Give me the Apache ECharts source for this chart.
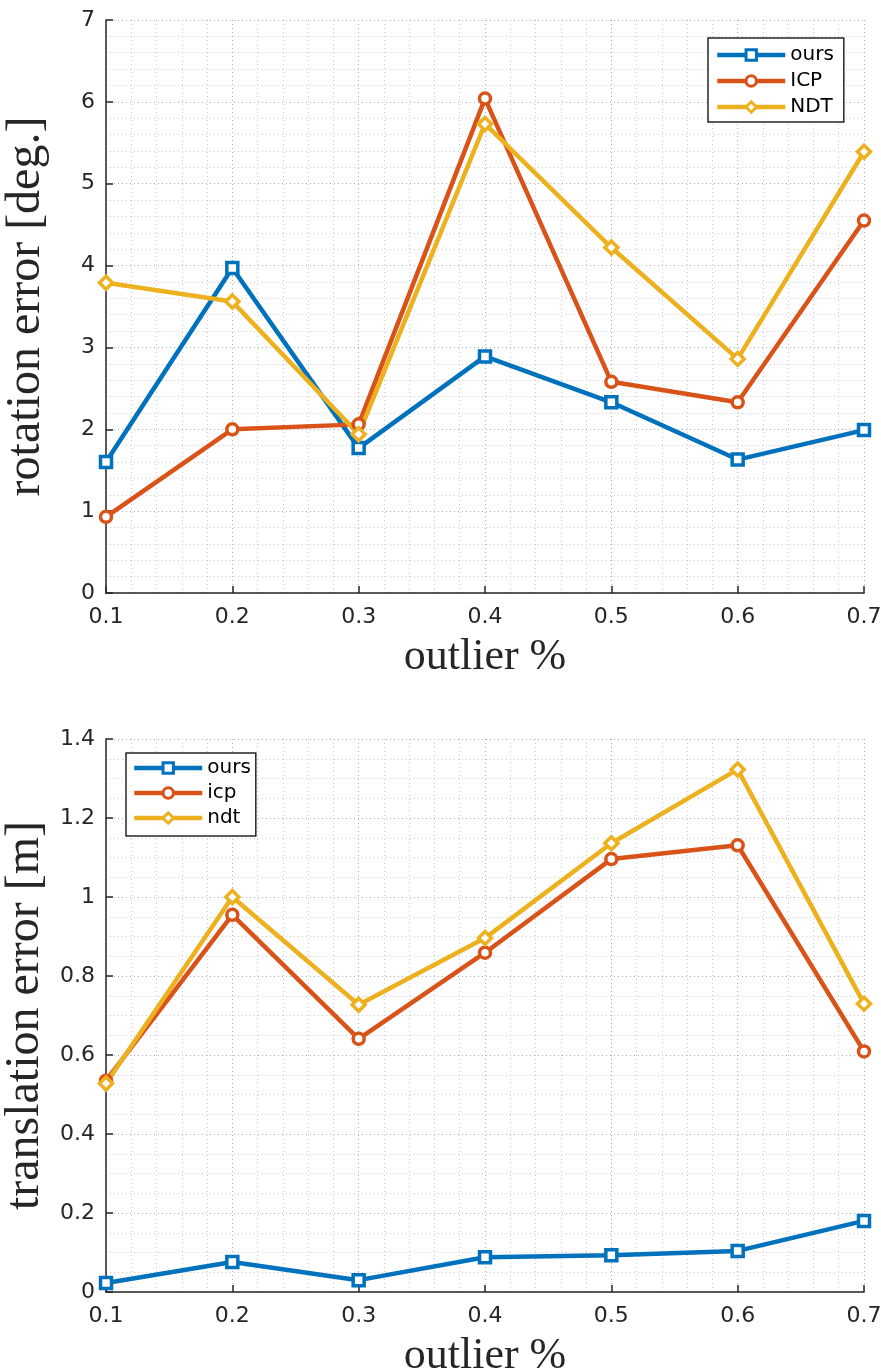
<!DOCTYPE html>
<html>
<head>
<meta charset="utf-8">
<script src="https://cdn.jsdelivr.net/npm/echarts@6/dist/echarts.min.js"></script>
<style>
  html, body { margin: 0; padding: 0; background: #fff; }
  #container { width: 881px; height: 1372px; }
</style>
</head>
<body>
<div id="container"></div>
<script>
// outlier ratios (x axis)
const outliers = [0.1, 0.2, 0.3, 0.4, 0.5, 0.6, 0.7];

// rotation error [deg.]
const rotOurs = [1.60, 3.97, 1.77, 2.89, 2.33, 1.63, 1.99];
const rotICP  = [0.93, 2.00, 2.06, 6.04, 2.58, 2.33, 4.55];
const rotNDT  = [3.79, 3.56, 1.94, 5.73, 4.22, 2.86, 5.39];

// translation error [m]
const transOurs = [0.023, 0.076, 0.030, 0.088, 0.093, 0.104, 0.180];
const transICP  = [0.535, 0.955, 0.641, 0.859, 1.096, 1.131, 0.609];
const transNDT  = [0.528, 1.000, 0.727, 0.896, 1.136, 1.323, 0.730];

const blue = '#0072BD';
const red = '#D95319';
const yellow = '#EDB120';

var dom = document.getElementById('container');
var myChart = echarts.init(dom, null, { renderer: 'canvas' });

function pairs(ys) {
    return outliers.map(function (x, i) { return [x, ys[i]]; });
}

// open markers: white fill, thick coloured border
function line(name, ys, color, symbol, idx) {
    return {
        name: name,
        type: 'line',
        xAxisIndex: idx,
        yAxisIndex: idx,
        data: pairs(ys),
        symbol: symbol,
        symbolSize: symbol === 'diamond' ? 13 : 11,
        showAllSymbol: true,
        lineStyle: { color: color, width: 4.5 },
        itemStyle: { color: '#fff', borderColor: color, borderWidth: 3.5 },
        emphasis: { disabled: true },
        z: 3
    };
}

const tickFont = { fontFamily: 'DejaVu Sans', fontSize: 22, color: '#262626' };
const xNameFont = { fontFamily: 'Liberation Serif', fontSize: 44, color: '#262626' };
const yNameFont = { fontFamily: 'Liberation Serif', fontSize: 48, color: '#262626' };
const gridLine = { show: true, lineStyle: { color: '#b0b0b0', type: [1, 3], width: 1 } };
const minorLine = { show: true, lineStyle: { color: '#cccccc', type: [1, 3], width: 1 } };

function xAxis(idx) {
    return {
        type: 'value',
        gridIndex: idx,
        min: 0.1,
        max: 0.7,
        interval: 0.1,
        name: 'outlier %',
        nameLocation: 'middle',
        nameGap: 42,
        nameTextStyle: xNameFont,
        axisLine: { lineStyle: { color: '#262626', width: 1.5 } },
        axisTick: { inside: true, length: 7, lineStyle: { color: '#262626', width: 1.5 } },
        axisLabel: Object.assign({ margin: 13, formatter: function (v) { return v.toFixed(1); } }, tickFont),
        splitLine: gridLine,
        minorTick: { show: false, splitNumber: 5 },
        minorSplitLine: minorLine
    };
}

function yAxis(idx, name, max, interval, minorSplit, gap) {
    return {
        type: 'value',
        gridIndex: idx,
        min: 0,
        max: max,
        interval: interval,
        name: name,
        nameLocation: 'middle',
        nameGap: gap,
        nameTextStyle: yNameFont,
        axisLine: { show: true, lineStyle: { color: '#262626', width: 1.5 } },
        axisTick: { show: true, inside: true, length: 7, lineStyle: { color: '#262626', width: 1.5 } },
        axisLabel: Object.assign({ margin: 11 }, tickFont),
        splitLine: gridLine,
        minorTick: { show: false, splitNumber: minorSplit },
        minorSplitLine: minorLine
    };
}

function legend(names, left, top, padding, gap) {
    return {
        data: names,
        formatter: function (n) { return n.trim(); },
        orient: 'vertical',
        left: left,
        top: top,
        itemWidth: 68,
        itemHeight: 13,
        itemGap: gap,
        padding: padding,
        borderColor: '#262626',
        borderWidth: 1.5,
        borderRadius: 0,
        backgroundColor: '#fff',
        lineStyle: { width: 4.5 },
        itemStyle: { borderWidth: 3 },
        textStyle: { fontFamily: 'DejaVu Sans', fontSize: 20, color: '#000' }
    };
}

var option = {
    animation: false,
    backgroundColor: '#fff',
    grid: [
        { left: 106, right: 17, top: 20, height: 573, outerBoundsMode: 'none' },
        { left: 106, right: 17, top: 739, height: 553, outerBoundsMode: 'none' }
    ],
    xAxis: [xAxis(0), xAxis(1)],
    yAxis: [
        yAxis(0, 'rotation error [deg.]', 7, 1, 5, 56),
        yAxis(1, 'translation error [m]', 1.4, 0.2, 4, 56)
    ],
    legend: [
        legend(['ours', 'ICP', 'NDT'], 708, 38, [7, 10, 5, 7], 6),
        legend(['ours ', 'icp', 'ndt'], 126, 753, [5, 5, 8, 6], 5)
    ],
    series: [
        line('ours', rotOurs, blue, 'rect', 0),
        line('ICP', rotICP, red, 'circle', 0),
        line('NDT', rotNDT, yellow, 'diamond', 0),
        line('ours ', transOurs, blue, 'rect', 1),
        line('icp', transICP, red, 'circle', 1),
        line('ndt', transNDT, yellow, 'diamond', 1)
    ]
};

if (option && typeof option === 'object') {
    myChart.setOption(option);
}

window.addEventListener('resize', myChart.resize);
</script>
</body>
</html>
